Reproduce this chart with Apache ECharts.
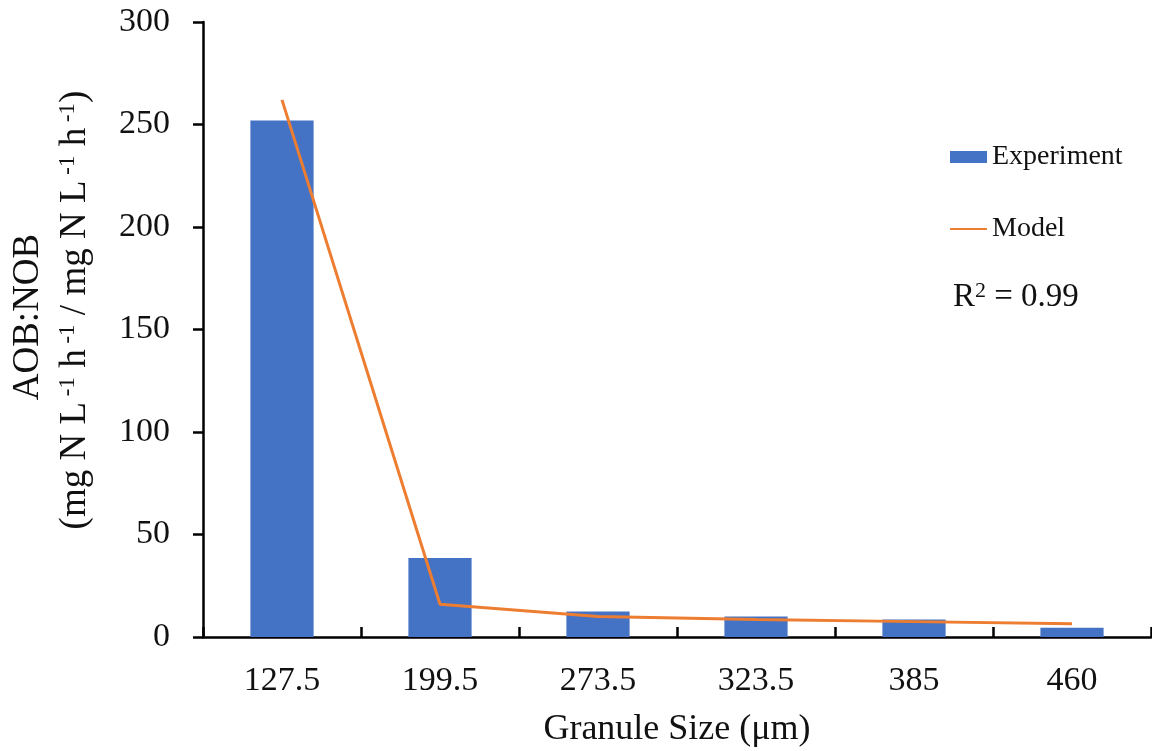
<!DOCTYPE html>
<html><head><meta charset="utf-8">
<script src="https://cdn.jsdelivr.net/npm/echarts@6/dist/echarts.min.js"></script>
<style>html,body{margin:0;padding:0;background:#fff}#c{width:1152px;height:751px}</style>
</head><body><div id="c"></div>
<script>
const categories = ['127.5','199.5','273.5','323.5','385','460'];
const experiment = [252, 38.5, 12.5, 10, 8.5, 4.5];
const model = [262, 16, 10, 8.5, 7.5, 6.5];
const yTicks = {min: 0, max: 300, interval: 50};
const F = '"Liberation Serif", "Times New Roman", serif';
const chart = echarts.init(document.getElementById('c'));
chart.setOption({
  animation: false,
  grid: {left: 203, right: 1, top: 22, bottom: 114, containLabel: false, outerBoundsMode: 'none'},
  legend: {
    orient: 'vertical', left: 949, top: 143, padding: 0, itemWidth: 37, itemHeight: 12, itemGap: 44,
    textStyle: {fontFamily: F, fontSize: 28, color: '#111'},
    data: [{name: 'Experiment', icon: 'rect'}, {name: 'Model', itemStyle: {opacity: 0}}]
  },
  xAxis: {
    type: 'category', data: categories,
    axisLine: {lineStyle: {color: '#000', width: 2.5}},
    axisTick: {show: true, inside: true, length: 10, alignWithLabel: false, interval: 0, lineStyle: {color: '#000', width: 2.5}},
    axisLabel: {fontFamily: F, fontSize: 34, color: '#111', margin: 27},
    name: 'Granule Size (\u03bcm)', nameLocation: 'middle', nameGap: 75,
    nameTextStyle: {fontFamily: F, fontSize: 36, color: '#111'}
  },
  yAxis: {
    type: 'value', min: yTicks.min, max: yTicks.max, interval: yTicks.interval,
    axisLine: {show: true, lineStyle: {color: '#000', width: 2.5}},
    axisTick: {show: true, inside: false, length: 10, lineStyle: {color: '#000', width: 2.5}},
    axisLabel: {fontFamily: F, fontSize: 34, color: '#111', margin: 33},
    splitLine: {show: false}
  },
  graphic: [
    {type: 'text', x: 28, y: 317, rotation: Math.PI/2,
     style: {text: 'AOB:NOB', font: '37px ' + F, fill: '#111', align: 'center', verticalAlign: 'middle'}},
    {type: 'text', x: 75, y: 310, rotation: Math.PI/2,
     style: {text: '(mg N L{s| -1} h{s| -1} / mg N L{s| -1} h{s| -1})', font: '37px ' + F, fill: '#111',
       align: 'center', verticalAlign: 'middle',
       rich: {s: {fontSize: 23, fontFamily: F, verticalAlign: 'top', lineHeight: 26, fill: '#111'}}}},
    {type: 'text', x: 953, y: 297,
     style: {text: 'R{s|2} = 0.99', font: '33px ' + F, fill: '#111', align: 'left', verticalAlign: 'middle',
       rich: {s: {fontSize: 22, fontFamily: F, verticalAlign: 'top', lineHeight: 26, fill: '#111'}}}}
  ],
  series: [
    {name: 'Experiment', type: 'bar', data: experiment, barWidth: '40%',
     itemStyle: {color: '#4472C4'}},
    {name: 'Model', type: 'line', data: model, symbol: 'none',
     lineStyle: {color: '#ED7D31', width: 3}, itemStyle: {color: '#ED7D31'}}
  ]
});
</script></body></html>
